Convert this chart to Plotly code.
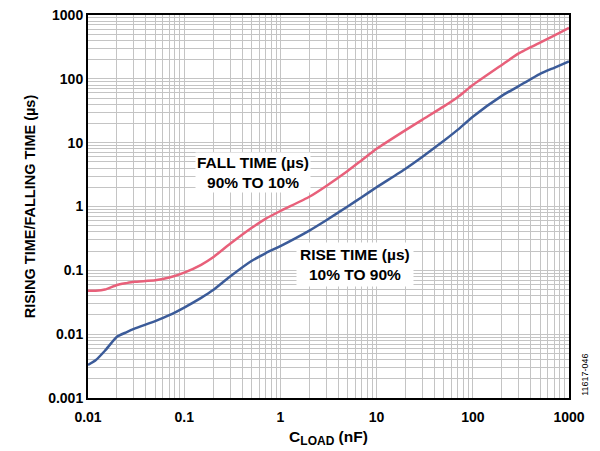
import plotly.graph_objects as go

# C_LOAD (nF)
cload = [0.01, 0.012, 0.015, 0.02, 0.025, 0.03, 0.05, 0.07, 0.1, 0.15, 0.2, 0.3, 0.5, 0.7,
         1, 2, 3, 5, 7, 10, 20, 30, 50, 70, 100, 200, 300, 500, 700, 1000]
# fall time 90% to 10% (us)
fall_time = [0.048, 0.048, 0.050, 0.059, 0.063, 0.066, 0.070, 0.077, 0.092, 0.122, 0.16, 0.26, 0.46, 0.64,
             0.85, 1.42, 2.1, 3.6, 5.3, 8.0, 15.7, 23, 37, 52, 80, 165, 250, 370, 475, 630]
# rise time 10% to 90% (us)
rise_time = [0.0033, 0.0039, 0.0055, 0.0091, 0.0107, 0.0121, 0.016, 0.0198, 0.0261, 0.037, 0.049, 0.080, 0.14, 0.185,
             0.24, 0.42, 0.61, 1.0, 1.4, 2.0, 3.9, 6.0, 10.7, 16, 25.5, 54, 77, 120, 149, 187]

x_ticks = [0.01, 0.1, 1, 10, 100, 1000]
x_ticktext = ["0.01", "0.1", "1", "10", "100", "1000"]
y_ticks = [0.001, 0.01, 0.1, 1, 10, 100, 1000]
y_ticktext = ["0.001", "0.01", "0.1", "1", "10", "100", "1000"]

PINK = "#e8607a"
BLUE = "#3b5b99"
GRID = "#c4c4c4"
FONT = "Liberation Sans"

def minor_vals(lo, hi):
    # grid positions 2..9 in every decade
    vals = []
    d = lo
    while d < hi:
        vals += [d * k for k in range(2, 10)]
        d *= 10
    return vals

fig = go.Figure()
fig.add_trace(go.Scatter(x=cload, y=fall_time, mode="lines", line=dict(color=PINK, width=2.5, shape="spline", smoothing=0.5),
                         showlegend=False))
fig.add_trace(go.Scatter(x=cload, y=rise_time, mode="lines", line=dict(color=BLUE, width=2.5, shape="spline", smoothing=0.5),
                         showlegend=False))

axis_common = dict(type="log", showline=True, mirror=True, linecolor="black", linewidth=2,
                   showgrid=True, gridcolor=GRID, gridwidth=1, ticks="", zeroline=False, automargin=False,
                   ticklabeloverflow="allow",
                   tickfont=dict(family=FONT, size=14, color="black", weight="bold"))

fig.update_xaxes(range=[-2, 3], tickvals=x_ticks, ticktext=x_ticktext, ticklabelstandoff=5,
                 minor=dict(tickvals=minor_vals(0.01, 1000), showgrid=True, gridcolor=GRID, gridwidth=1, ticks=""),
                 title=dict(text="C<sub><span style='font-size:12px'>LOAD</span></sub> (nF)",
                            font=dict(family=FONT, size=15.5, color="black", weight="bold"), standoff=7),
                 **axis_common)
fig.update_yaxes(range=[-3, 3], tickvals=y_ticks, ticktext=y_ticktext,
                 minor=dict(tickvals=minor_vals(0.001, 1000), showgrid=True, gridcolor=GRID, gridwidth=1, ticks=""),
                 title=dict(text="RISING TIME/FALLING TIME (µs)", font=dict(family=FONT, size=14.5, color="black", weight="bold"), standoff=9),
                 **axis_common)

fig.add_annotation(x=-0.29, y=0.53, xref="x", yref="y", text="FALL TIME (µs)<br>90% TO 10%", showarrow=False,
                   font=dict(family=FONT, size=15.5, color="black", weight="bold"), bgcolor="white", borderpad=1)
fig.add_annotation(x=0.775, y=-0.902, xref="x", yref="y", text="RISE TIME (µs)<br>10% TO 90%", showarrow=False,
                   font=dict(family=FONT, size=15.5, color="black", weight="bold"), bgcolor="white", borderpad=3)
fig.add_annotation(x=1.033, y=0, xref="paper", yref="paper", text="11617-046", textangle=-90, showarrow=False,
                   xanchor="center", yanchor="bottom", font=dict(family=FONT, size=9, color="black"))

# page body adds an 8px offset, so the figure is 8px smaller than the window
fig.update_layout(width=592, height=443, margin=dict(l=80, r=31, t=7, b=53),
                  paper_bgcolor="white", plot_bgcolor="white")

fig.write_html("out.html")
